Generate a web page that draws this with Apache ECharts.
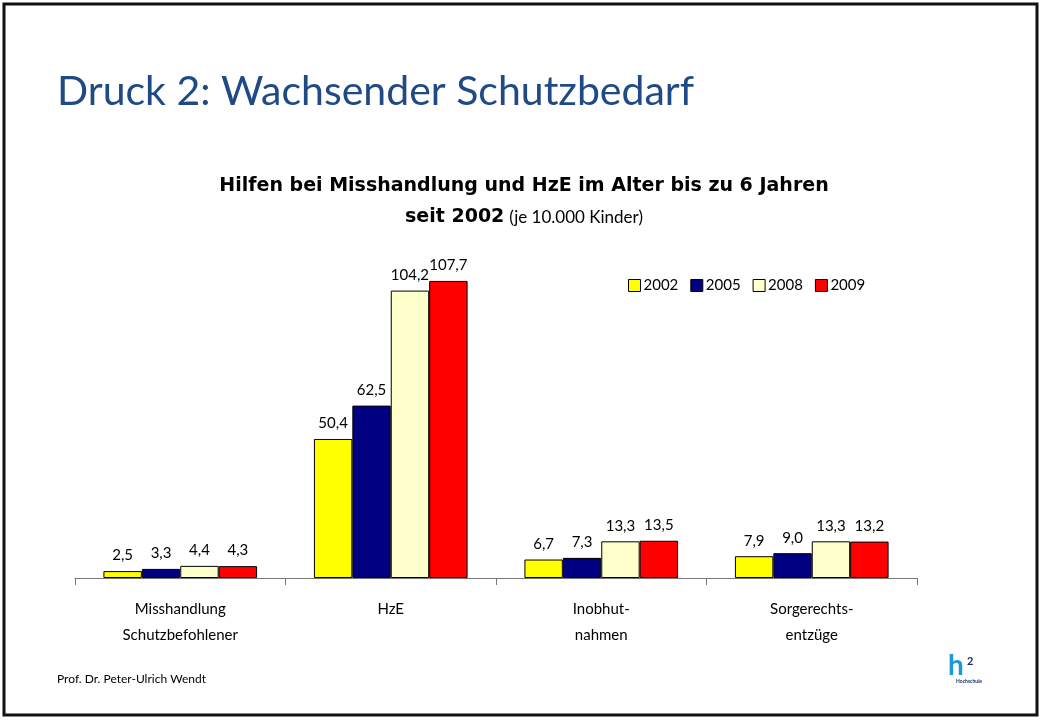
<!DOCTYPE html>
<html>
<head>
<meta charset="utf-8">
<script src="https://cdn.jsdelivr.net/npm/echarts@6/dist/echarts.min.js"></script>
<style>
  html, body { margin: 0; padding: 0; background: #fff; }
  #chart { width: 1041px; height: 720px; }
</style>
</head>
<body>
<div id="chart"></div>
<script>
// Kategorien und Werte (je 10.000 Kinder)
const categories = ['Misshandlung\nSchutzbefohlener', 'HzE', 'Inobhut-\nnahmen', 'Sorgerechts-\nentzüge'];
const years = ['2002', '2005', '2008', '2009'];
const values2002 = [2.5, 50.4, 6.7, 7.9];
const values2005 = [3.3, 62.5, 7.3, 9.0];
const values2008 = [4.4, 104.2, 13.3, 13.3];
const values2009 = [4.3, 107.7, 13.5, 13.2];
const colors = ['#ffff00', '#000080', '#ffffcc', '#ff0000'];

const font = 'Lato, "Open Sans", sans-serif';
const heavyFont = '"DejaVu Sans", Lato, sans-serif';
const seriesData = [values2002, values2005, values2008, values2009];

const series = years.map((year, i) => ({
  name: year,
  type: 'bar',
  data: seriesData[i],
  barGap: '0%',
  barCategoryGap: '27%',
  itemStyle: {
    color: colors[i],
    borderColor: '#000',
    borderWidth: 1
  },
  label: {
    show: true,
    position: 'top',
    distance: 8,
    color: '#000',
    fontFamily: font,
    fontSize: 15,
    formatter: p => p.value.toFixed(1).replace('.', ',')
  }
}));

const chart = echarts.init(document.getElementById('chart'));
chart.setOption({
  animation: false,
  backgroundColor: '#fff',
  graphic: [
    {
      type: 'rect',
      shape: { x: 4, y: 4, width: 1033, height: 711 },
      style: { fill: 'none', stroke: '#111', lineWidth: 3 },
      silent: true
    },
    {
      type: 'text',
      left: 57,
      top: 71,
      style: {
        text: 'Druck 2: Wachsender Schutzbedarf',
        fill: '#1f4a85',
        font: '41px ' + font
      }
    },
    {
      type: 'text',
      left: 57,
      top: 673,
      style: {
        text: 'Prof. Dr. Peter-Ulrich Wendt',
        fill: '#000',
        font: '12px ' + font
      }
    },
    {
      type: 'text',
      left: 948,
      top: 652,
      style: {
        text: 'h',
        fill: '#1a9ad6',
        font: 'bold 28px ' + font
      }
    },
    {
      type: 'text',
      left: 967,
      top: 656,
      style: {
        text: '2',
        fill: '#1a2f6e',
        font: 'bold 11px ' + font
      }
    },
    {
      type: 'text',
      left: 956,
      top: 679,
      style: {
        text: 'Hochschule',
        fill: '#1a2f6e',
        font: 'bold 5px ' + font
      }
    }
  ],
  title: {
    text: '{b|Hilfen bei Misshandlung und HzE im Alter bis zu 6 Jahren}\n{b|seit 2002} {n|(je 10.000 Kinder)}',
    left: 519,
    textAlign: 'center',
    top: 166,
    textStyle: {
      rich: {
        b: { fontFamily: heavyFont, fontWeight: 'bold', fontSize: 19, color: '#000', lineHeight: 31 },
        n: { fontFamily: font, fontWeight: 'normal', fontSize: 17, color: '#000', lineHeight: 31 }
      }
    }
  },
  legend: {
    data: years,
    left: 623,
    top: 273,
    itemWidth: 12,
    itemHeight: 12,
    itemGap: 12,
    icon: 'rect',
    itemStyle: { borderColor: '#000', borderWidth: 1 },
    textStyle: { fontFamily: font, fontSize: 15, color: '#000', padding: [0, 0, 0, -2] }
  },
  grid: {
    left: 75,
    right: 124,
    top: 247,
    bottom: 142,
    containLabel: false
  },
  xAxis: {
    type: 'category',
    data: categories,
    axisLine: { lineStyle: { color: '#777', width: 1 } },
    axisTick: { show: true, length: 7, inside: false, lineStyle: { color: '#777' } },
    axisLabel: {
      color: '#000',
      fontFamily: font,
      fontSize: 15,
      lineHeight: 26,
      margin: 18
    }
  },
  yAxis: {
    type: 'value',
    min: 0,
    max: 120,
    show: false,
    splitLine: { show: false }
  },
  series: series
});
</script>
</body>
</html>
